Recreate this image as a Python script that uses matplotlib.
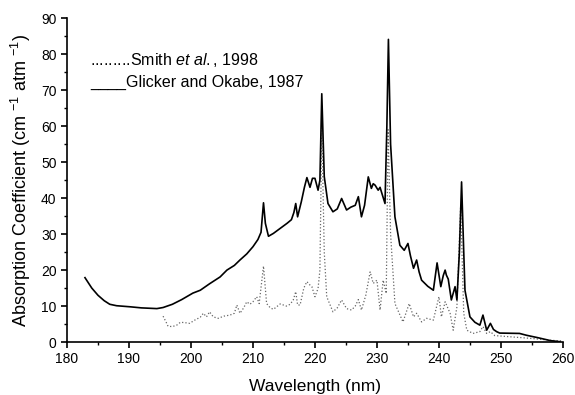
import numpy as np
import matplotlib
matplotlib.use("Agg")
import matplotlib.pyplot as plt
from matplotlib.ticker import MultipleLocator

plt.rcParams['font.family'] = ['Liberation Sans', 'DejaVu Sans']
plt.rcParams['mathtext.fontset'] = 'custom'
plt.rcParams['mathtext.rm'] = 'Liberation Sans'
plt.rcParams['mathtext.it'] = 'Liberation Sans:italic'

# Glicker and Okabe, 1987 (trait plein)
wl_glicker = [182.9, 184, 185, 186, 186.9, 188, 190.2, 192, 194.5, 195.5, 197, 198.5,
              200.3, 201.5, 203, 204.7, 205.8, 207, 207.9, 209, 210, 210.8, 211.3, 211.7,
              212.0, 212.5, 213.3, 214.4, 215.5, 216.2, 216.6, 216.9, 217.2, 217.8, 218.3,
              218.7, 219.2, 219.6, 220.0, 220.5, 220.8, 221.1, 221.5, 222.1, 222.9, 223.6,
              224.3, 225.1, 225.8, 226.5, 227.0, 227.5, 228.0, 228.6, 229.1, 229.4, 229.7,
              230.2, 230.5, 230.8, 231.3, 231.6, 231.85, 232.2, 232.9, 233.7, 234.4, 235.0,
              235.4, 235.9, 236.4, 236.8, 237.2, 238.2, 239.1, 239.7, 240.3, 240.7, 241.0,
              241.2, 241.5, 242.0, 242.6, 242.9, 243.3, 243.65, 244.0, 244.2, 245.0, 245.8,
              246.6, 247.1, 247.7, 248.3, 248.8, 249.3, 249.8, 253, 254.1, 256, 258, 259.5]
abs_glicker = [17.9, 15, 13, 11.5, 10.5, 10.1, 9.8, 9.5, 9.3, 9.6, 10.5, 11.8,
               13.6, 14.4, 16.2, 18.1, 20, 21.3, 22.8, 24.5, 26.5, 28.5, 30.5, 38.7,
               33, 29.4, 30.2, 31.6, 33, 34, 36, 38.5, 34.8, 39, 43,
               45.7, 43, 45.5, 45.5, 42.2, 45, 69, 46, 38.5, 36.2, 37,
               39.9, 36.7, 37.5, 38, 40.4, 34.8, 38, 45.9, 42.7, 44, 43.6,
               42.2, 43, 41.3, 38.5, 60, 84.1, 55, 34.8, 26.9, 25.5, 27.4,
               24, 20.5, 22.8, 19.5, 17.2, 15.5, 14.4, 22, 15.4, 18.5, 20,
               18.6, 17.5, 11.7, 15.4, 11.7, 25, 44.5, 25, 14.4, 7, 5.5,
               4.7, 7.5, 3.3, 5.2, 3.5, 2.9, 2.5, 2.4, 1.9, 1.2, 0.4, 0.1]

# Smith et al., 1998 (pointillés)
wl_smith = [195.5, 196.0, 196.3, 197.0, 197.7, 198.3, 199.0, 199.8, 200.5, 201.5, 202.0,
            202.5, 203.0, 203.6, 204.4, 205.3, 206.3, 207.0, 207.4, 207.9, 208.5, 209.0,
            209.5, 210.0, 210.6, 211.0, 211.7, 212.2, 212.8, 213.3, 214.4, 215.4, 216.0,
            216.5, 216.9, 217.2, 217.6, 218.2, 218.7, 219.1, 219.5, 220.0, 220.5, 220.8,
            221.1, 221.5, 221.9, 222.9, 223.6, 224.3, 225.1, 225.9, 226.5, 227.0, 227.5,
            228.2, 228.9, 229.4, 230.0, 230.5, 231.0, 231.5, 231.8, 232.2, 232.9, 234.2,
            235.2, 235.9, 236.4, 237.2, 238.0, 239.1, 240.0, 240.4, 241.0, 241.8, 242.3,
            242.9, 243.5, 244.0, 244.5, 245.5, 246.6, 247.1, 247.7, 248.3, 249, 252, 255,
            258, 260]
abs_smith = [7.2, 5.5, 4.4, 4.3, 4.7, 5.5, 5.4, 5.2, 6, 6.9, 8,
             7, 8.4, 7, 6.6, 7.2, 7.5, 8, 10.3, 8, 9.5, 11.2,
             10.5, 11.2, 12.6, 10.7, 21.1, 10.7, 9.5, 9.1, 10.6, 10, 10.5,
             11.7, 14, 10.3, 10.3, 15, 16.8, 16, 15.4, 12.6, 14.9, 20,
             60, 25, 12.6, 8.4, 9.5, 11.7, 9.3, 8.9, 10, 11.8, 8.9,
             13, 19.5, 16.3, 17.2, 8.9, 17.2, 13.5, 59, 30, 10.7, 5.6,
             10.7, 7, 8, 5.6, 6.6, 6.1, 12.6, 7, 11.2, 8, 3.3,
             9.8, 38, 8, 3.3, 2.4, 2.9, 4.3, 2.4, 2.9, 1.8, 1.4, 1.0,
             0.5, 0.3]

fig = plt.figure(figsize=(5.75, 3.95), dpi=100)
ax = fig.add_axes([0.1165, 0.134, 0.8625, 0.82])

ax.plot(wl_smith, abs_smith, linestyle=':', color='#666666', lw=0.9)
ax.plot(wl_glicker, abs_glicker, color='black', lw=1.2)

ax.set_xlim(180, 260)
ax.set_ylim(0, 90)
ax.xaxis.set_major_locator(MultipleLocator(10))
ax.xaxis.set_minor_locator(MultipleLocator(5))
ax.yaxis.set_major_locator(MultipleLocator(10))
ax.yaxis.set_minor_locator(MultipleLocator(5))
ax.spines['top'].set_visible(False)
ax.spines['right'].set_visible(False)
for s in ['left', 'bottom']:
    ax.spines[s].set_linewidth(1.2)
ax.tick_params(which='major', direction='out', length=4, width=1.2, labelsize=10)
ax.tick_params(which='minor', direction='out', length=2.5, width=1.0)

ax.set_xlabel("Wavelength (nm)", fontsize=12.5, labelpad=9)
ax.set_ylabel(r"Absorption Coefficient (cm $^{-1}$ atm $^{-1}$)", fontsize=13, labelpad=6)

# légende sous forme de texte
ax.text(183.7, 78.3, r".........Smith $\it{et\ al.}$, 1998", fontsize=11.5, va='center')
ax.text(183.7, 72.2, "____Glicker and Okabe, 1987", fontsize=11.5, va='center')

fig.savefig("out.png", dpi=100)
